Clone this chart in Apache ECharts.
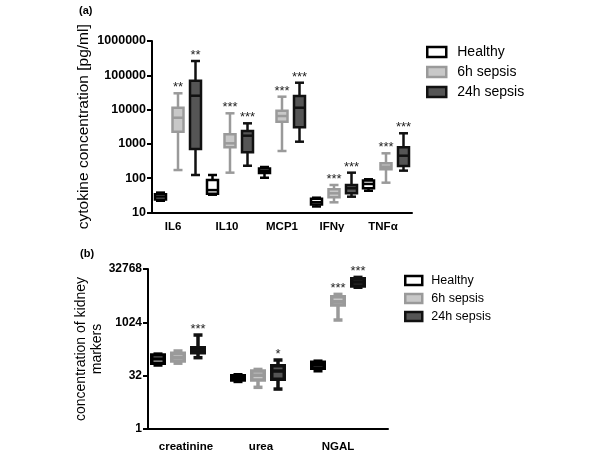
<!DOCTYPE html>
<html><head><meta charset="utf-8">
<script src="https://cdn.jsdelivr.net/npm/echarts@6/dist/echarts.min.js"></script>
<style>html,body{margin:0;padding:0;background:#fff}#c{width:600px;height:453px}</style>
</head><body><div id="c"></div>
<script>
const groups = ['Healthy', '6h sepsis', '24h sepsis'];

// Panel (a): cytokines, each row [min, q1, median, q3, max] in pg/ml
const cytokines = ['IL6', 'IL10', 'MCP1', 'IFNγ', 'TNFα'];
const cytoHealthy = [[22,24,29,34,38],[33,35,45,89,124],[103,142,162,192,212],[15,17,20,25,27],[43,51,68,85,93]];
const cyto6h = [[173,2270,5800,11350,29900],[145,795,1040,1905,7800],[621,4440,6500,9290,23800],[19.8,27.8,36.3,47.4,63.4],[74,182,216,272,532]];
const cyto24h = [[124,710,25400,69700,261000],[231,569,1735,2380,3980],[1160,3050,11350,24900,60800],[28.9,36.3,50.8,63,145],[166,227,453,795,2040]];
const cytoStarsHealthy = ['', '', '', '', ''];
const cytoStars6h = ['**', '***', '***', '***', '***'];
const cytoStars24h = ['**', '***', '***', '***', '***'];
const cytoTicks = ['10', '100', '1000', '10000', '100000', '1000000'];

// Panel (b): kidney markers
const kidneyMarkers = ['creatinine', 'urea', 'NGAL'];
const kidHealthy = [[64,72,95,122,130],[22,24,28,32,34],[44,52,64,76,82]];
const kid6h = [[72,83,105,137,159],[15,24,33,43,48],[1190,3150,3900,5400,6300]];
const kid24h = [[103,142,169,197,449],[13.4,25.3,43.3,61,88.5],[10000,10800,14000,17500,19000]];
const kidStarsHealthy = ['', '', ''];
const kidStars6h = ['', '', '***'];
const kidStars24h = ['***', '*', '***'];
const kidTicks = ['1', '32', '1024', '32768'];

const FONT = 'Liberation Sans, Arial, Helvetica, sans-serif';
const styles = [
  { fill: '#ffffff', stroke: '#000000' },
  { fill: '#c8c8c8', stroke: '#9a9a9a' },
  { fill: '#555555', stroke: '#111111' }
];

function toData(rows) { return rows.map((r, i) => [i].concat(r)); }

function makeRender(style, stars, offset, boxW, capW, lw) {
  return function (params, api) {
    const i = api.value(0);
    const p = [1, 2, 3, 4, 5].map(k => api.coord([i, api.value(k)]));
    const x = p[0][0] + offset;
    const yMin = p[0][1], yQ1 = p[1][1], yMed = p[2][1], yQ3 = p[3][1], yMax = p[4][1];
    const ls = { stroke: style.stroke, lineWidth: lw, lineCap: 'butt' };
    const children = [
      { type: 'line', shape: { x1: x, y1: yMax, x2: x, y2: yQ3 }, style: ls },
      { type: 'line', shape: { x1: x, y1: yQ1, x2: x, y2: yMin }, style: ls },
      { type: 'line', shape: { x1: x - capW / 2, y1: yMax, x2: x + capW / 2, y2: yMax }, style: ls },
      { type: 'line', shape: { x1: x - capW / 2, y1: yMin, x2: x + capW / 2, y2: yMin }, style: ls },
      { type: 'rect', shape: { x: x - boxW / 2, y: yQ3, width: boxW, height: Math.max(yQ1 - yQ3, 0.5) },
        style: { fill: style.fill, stroke: style.stroke, lineWidth: lw } },
      { type: 'line', shape: { x1: x - boxW / 2, y1: yMed, x2: x + boxW / 2, y2: yMed }, style: ls }
    ];
    const s = stars[params.dataIndex];
    if (s) {
      children.push({ type: 'text', style: { text: s, x: x, y: yMax - 12, align: 'center', verticalAlign: 'top',
        fontSize: 13, fontFamily: FONT, fill: '#222' } });
    }
    return { type: 'group', children: children };
  };
}

const series = [];
const topSets = [[cytoHealthy, cytoStarsHealthy], [cyto6h, cytoStars6h], [cyto24h, cytoStars24h]];
const botSets = [[kidHealthy, kidStarsHealthy], [kid6h, kidStars6h], [kid24h, kidStars24h]];
topSets.forEach((set, g) => {
  series.push({
    type: 'custom', name: groups[g], xAxisIndex: 0, yAxisIndex: 0,
    itemStyle: { color: styles[g].fill, borderColor: styles[g].stroke },
    encode: { x: 0, y: [1, 2, 3, 4, 5] },
    renderItem: makeRender(styles[g], set[1], (g - 1) * 17.5, 11, 9, 2.5),
    data: toData(set[0])
  });
});
botSets.forEach((set, g) => {
  series.push({
    type: 'custom', name: groups[g], xAxisIndex: 1, yAxisIndex: 1,
    itemStyle: { color: styles[g].fill, borderColor: styles[g].stroke },
    encode: { x: 0, y: [1, 2, 3, 4, 5] },
    renderItem: makeRender(styles[g], set[1], (g - 1) * 20, 12.5, 9, 3.5),
    data: toData(set[0])
  });
});

function legendData() {
  return groups.map((n, g) => ({ name: n, icon: 'rect',
    itemStyle: { color: styles[g].fill, borderColor: styles[g].stroke, borderWidth: 2.5 } }));
}
function tickFmt(list) {
  return function (v) { const s = String(Math.round(v)); return list.indexOf(s) >= 0 ? s : ''; };
}

const chart = echarts.init(document.getElementById('c'), null, { renderer: 'canvas' });
chart.setOption({
  animation: false,
  textStyle: { fontFamily: FONT },
  grid: [
    { left: 152, top: 41, width: 260, height: 171.5 },
    { left: 138, top: 269, width: 240, height: 160 },
    { left: 148, top: 269, width: 240, height: 160 }
  ],
  legend: [
    { orient: 'vertical', left: 426, top: 45, padding: 0, itemWidth: 19, itemHeight: 10, itemGap: 6,
      textStyle: { fontSize: 14, color: '#000', fontFamily: FONT, padding: [0, 0, 0, 6] }, data: legendData(), selectedMode: false },
    { orient: 'vertical', left: 404, top: 274, padding: 0, itemWidth: 17, itemHeight: 9, itemGap: 5,
      textStyle: { fontSize: 12.5, color: '#000', fontFamily: FONT, padding: [0, 0, 0, 4] }, data: legendData(), selectedMode: false }
  ],
  xAxis: [
    { gridIndex: 0, type: 'category', data: cytokines,
      axisLine: { lineStyle: { color: '#000', width: 2 } }, axisTick: { show: false },
      axisLabel: { interval: 0, hideOverlap: false, fontWeight: 'bold', fontSize: 11.5, color: '#000', margin: 8, fontFamily: FONT,
        formatter: (v, i) => '{l' + i + '|' + v + '}',
        rich: { l0: { padding: [0, 10, 0, 0] }, l1: { padding: [0, 6, 0, 0] }, l2: {}, l3: { padding: [0, 4, 0, 0] }, l4: { padding: [0, 6, 0, 0] } } } },
    { gridIndex: 1, type: 'category', data: kidneyMarkers,
      axisLine: { show: false }, axisTick: { show: false },
      axisLabel: { interval: 0, hideOverlap: false, fontWeight: 'bold', fontSize: 11.5, color: '#000', margin: 12, fontFamily: FONT,
        formatter: (v, i) => '{k' + i + '|' + v + '}',
        rich: { k0: { padding: [0, 0, 0, 16] }, k1: { padding: [0, 0, 0, 6] }, k2: {} } } },
    { gridIndex: 2, type: 'value', min: 0, max: 1,
      axisLine: { show: true, lineStyle: { color: '#000', width: 2 } }, axisTick: { show: false },
      axisLabel: { show: false }, splitLine: { show: false } }
  ],
  yAxis: [
    { gridIndex: 0, type: 'log', logBase: 10, min: 10, max: 1000000, splitNumber: 5,
      axisLine: { show: true, lineStyle: { color: '#000', width: 2 } },
      axisTick: { show: true, length: 5, lineStyle: { color: '#000', width: 2 } },
      splitLine: { show: false },
      axisLabel: { formatter: tickFmt(cytoTicks), fontWeight: 'bold', fontSize: 12.5, color: '#000', margin: 6, fontFamily: FONT },
      name: 'cytokine concentration [pg/ml]', nameLocation: 'middle', nameGap: 60,
      nameTextStyle: { fontSize: 15.5, color: '#000', fontFamily: FONT } },
    { gridIndex: 1, type: 'log', logBase: 32, min: 1, max: 32768, splitNumber: 3, show: false },
    { gridIndex: 2, type: 'log', logBase: 32, min: 1, max: 32768, splitNumber: 3,
      axisLine: { show: true, lineStyle: { color: '#000', width: 2 } },
      axisTick: { show: true, length: 5, lineStyle: { color: '#000', width: 2 } },
      splitLine: { show: false },
      axisLabel: { formatter: tickFmt(kidTicks), fontWeight: 'bold', fontSize: 12, color: '#000', margin: 6, fontFamily: FONT },
      name: 'concentration of kidney\nmarkers', nameLocation: 'middle', nameGap: 41,
      nameTextStyle: { fontSize: 14, lineHeight: 16, color: '#000', align: 'center', fontFamily: FONT } }
  ],
  graphic: [
    { type: 'text', left: 79, top: 5, style: { text: '(a)', fontSize: 11, fontWeight: 'bold', fill: '#000', fontFamily: FONT } },
    { type: 'text', left: 80, top: 248, style: { text: '(b)', fontSize: 11, fontWeight: 'bold', fill: '#000', fontFamily: FONT } }
  ],
  series: series
});
</script></body></html>
